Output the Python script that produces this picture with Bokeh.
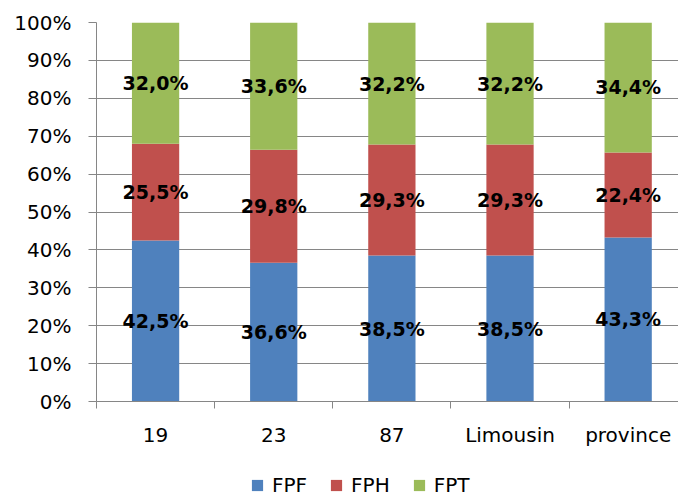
from bokeh.plotting import figure
from bokeh.layouts import column
from bokeh.models import (ColumnDataSource, Range1d, FixedTicker, PrintfTickFormatter,
                          Legend, LegendItem)
from bokeh.core.properties import value
from bokeh.embed import file_html
from bokeh.resources import INLINE

categories = ["19", "23", "87", "Limousin", "province"]
fpf = [42.5, 36.6, 38.5, 38.5, 43.3]
fph = [25.5, 29.8, 29.3, 29.3, 22.4]
fpt = [32.0, 33.6, 32.2, 32.2, 34.4]
series_names = ["FPF", "FPH", "FPT"]
colors = ["#4F81BD", "#C0504D", "#9BBB59"]
y_ticks = list(range(0, 101, 10))

FONT = "DejaVu Sans"

xs = [i + 0.5 for i in range(len(categories))]
series = [fpf, fph, fpt]

p = figure(width=678, height=460, output_backend="svg", toolbar_location=None,
           x_range=Range1d(0, 4.926), y_range=Range1d(0, 100),
           min_border_left=96, min_border_right=0, min_border_top=22, min_border_bottom=59)
p.outline_line_color = None
p.xgrid.grid_line_color = None
p.ygrid.grid_line_color = "#868686"
p.ygrid.grid_line_width = 1
p.ygrid.ticker = FixedTicker(ticks=y_ticks)

bottom = [0.0] * len(categories)
for name, vals, col in zip(series_names, series, colors):
    top = [b + v for b, v in zip(bottom, vals)]
    src = ColumnDataSource(dict(x=xs, bottom=bottom, top=top))
    p.vbar(x="x", width=0.4, bottom="bottom", top="top", source=src,
           fill_color=col, line_color=None)
    mids = [(b + t) / 2 for b, t in zip(bottom, top)]
    labels = [f"{v:.1f}%".replace(".", ",") for v in vals]
    lsrc = ColumnDataSource(dict(x=xs, y=mids, t=labels))
    p.text(x="x", y="y", text="t", source=lsrc, text_align="center",
           text_baseline="middle", text_font=value(FONT), text_font_style="bold",
           text_font_size="19px", text_color="#000000")
    bottom = top

# y axis
ya = p.yaxis[0]
ya.ticker = FixedTicker(ticks=y_ticks)
ya.formatter = PrintfTickFormatter(format="%d%%")
ya.axis_line_color = "#868686"
ya.major_tick_line_color = "#868686"
ya.major_tick_out = 8
ya.major_tick_in = 0
ya.minor_tick_line_color = None
ya.major_label_text_font = FONT
ya.major_label_text_font_size = "20px"
ya.major_label_text_color = "#000000"
ya.major_label_standoff = 17

# x axis
xa = p.xaxis[0]
xa.ticker = FixedTicker(ticks=xs, minor_ticks=list(range(0, len(categories) + 1)))
xa.major_label_overrides = {x: c for x, c in zip(xs, categories)}
xa.axis_line_color = "#868686"
xa.major_tick_line_color = None
xa.minor_tick_line_color = "#868686"
xa.minor_tick_out = 7
xa.minor_tick_in = 0
xa.major_label_text_font = FONT
xa.major_label_text_font_size = "20px"
xa.major_label_text_color = "#000000"
xa.major_label_standoff = 14

# legend strip
lg = figure(width=678, height=37, output_backend="svg", toolbar_location=None,
            x_range=Range1d(0, 1), y_range=Range1d(0, 1),
            min_border=0, x_axis_location=None, y_axis_location=None)
lg.outline_line_color = None
lg.grid.grid_line_color = None
items = []
for name, col in zip(series_names, colors):
    r = lg.vbar(x=[-10], bottom=[-10], top=[-9], width=0.1, fill_color=col, line_color=None)
    items.append(LegendItem(label=name, renderers=[r]))
legend = Legend(items=items, orientation="horizontal", location=(154, 0),
                glyph_width=14, glyph_height=14, label_standoff=8, spacing=22,
                padding=0, margin=0, border_line_color=None, background_fill_alpha=0,
                label_text_font=FONT, label_text_font_size="20px", label_text_color="#000000")
lg.add_layout(legend)

layout = column(p, lg, spacing=0)
open("out.html", "w").write(file_html(layout, INLINE))
